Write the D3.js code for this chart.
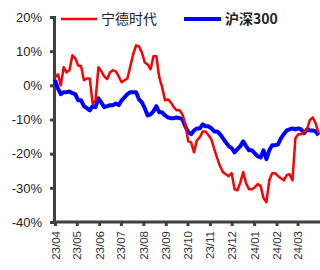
<!DOCTYPE html>
<html><head><meta charset="utf-8">
<script src="https://cdn.jsdelivr.net/npm/d3@7"></script>
<style>
html,body{margin:0;padding:0;background:#fff;}
svg{display:block;}
</style></head>
<body>
<svg id="c" width="320" height="270"></svg>
<script>
const dates = ["2023-04-01","2023-04-05","2023-04-09","2023-04-13","2023-04-17","2023-04-21","2023-04-25","2023-04-29","2023-05-03","2023-05-07","2023-05-11","2023-05-15","2023-05-19","2023-05-23","2023-05-27","2023-05-31","2023-06-04","2023-06-08","2023-06-12","2023-06-16","2023-06-20","2023-06-24","2023-06-28","2023-07-02","2023-07-06","2023-07-10","2023-07-14","2023-07-18","2023-07-22","2023-07-26","2023-07-30","2023-08-03","2023-08-07","2023-08-11","2023-08-15","2023-08-19","2023-08-23","2023-08-27","2023-08-31","2023-09-04","2023-09-08","2023-09-12","2023-09-16","2023-09-20","2023-09-24","2023-09-28","2023-10-02","2023-10-06","2023-10-10","2023-10-14","2023-10-18","2023-10-22","2023-10-26","2023-10-30","2023-11-03","2023-11-07","2023-11-11","2023-11-15","2023-11-19","2023-11-23","2023-11-27","2023-12-01","2023-12-05","2023-12-09","2023-12-13","2023-12-17","2023-12-21","2023-12-25","2023-12-29","2024-01-02","2024-01-06","2024-01-10","2024-01-14","2024-01-18","2024-01-22","2024-01-26","2024-01-30","2024-02-03","2024-02-07","2024-02-11","2024-02-15","2024-02-19","2024-02-23","2024-02-27","2024-03-02","2024-03-06","2024-03-10","2024-03-14","2024-03-18","2024-03-22","2024-03-26","2024-03-30"];
const catl = [2.3,3.2,0.0,5.3,3.8,4.4,8.8,7.9,5.8,5.6,1.5,2.0,2.0,-5.3,-4.4,5.3,4.1,2.6,1.8,3.8,4.4,4.1,2.6,0.9,1.5,2.0,5.6,9.1,11.7,11.4,9.6,6.7,6.1,4.7,8.5,8.5,2.3,-0.6,-4.4,-4.1,-5.0,-6.4,-7.3,-7.3,-8.5,-11.4,-16.4,-16.7,-19.6,-16.1,-15.2,-13.5,-13.5,-14.6,-15.8,-18.7,-21.3,-23.7,-25.4,-26.0,-26.6,-25.7,-30.4,-30.7,-28.4,-25.4,-28.7,-30.4,-30.4,-29.8,-28.9,-29.5,-33.0,-34.2,-27.8,-25.7,-25.7,-26.6,-27.2,-27.8,-26.3,-26.0,-27.8,-15.5,-14.3,-14.3,-13.7,-12.9,-10.2,-9.4,-11.1,-14.0];
const hs300 = [1.5,-0.9,-2.6,-2.0,-2.0,-1.8,-2.3,-2.6,-4.4,-4.4,-6.1,-6.7,-7.3,-6.1,-6.4,-3.8,-5.0,-6.4,-6.1,-5.8,-5.8,-5.3,-5.8,-4.4,-3.5,-2.6,-2.0,-2.0,-2.0,-4.1,-5.0,-6.7,-8.8,-8.5,-7.6,-6.1,-7.9,-7.9,-8.8,-9.4,-9.6,-9.6,-9.4,-9.6,-9.9,-12.0,-13.7,-14.3,-13.2,-12.6,-12.6,-11.4,-12.0,-12.0,-12.6,-13.5,-13.5,-14.3,-15.5,-16.7,-17.8,-18.4,-19.6,-18.7,-17.8,-16.4,-17.8,-19.0,-19.0,-19.9,-20.8,-21.1,-19.0,-21.6,-19.0,-17.5,-17.5,-17.3,-15.5,-14.3,-13.2,-12.9,-12.6,-12.9,-12.6,-12.9,-14.0,-12.9,-13.2,-13.2,-13.5,-14.6];
const yTicks = [20,10,0,-10,-20,-30,-40];
const xTickMonths = ["2023-04-01","2023-05-01","2023-06-01","2023-07-01","2023-08-01","2023-09-01","2023-10-01","2023-11-01","2023-12-01","2024-01-01","2024-02-01","2024-03-01"];
const seriesNames = ["宁德时代","沪深300"];
const seriesColors = ["#ff0000","#0000ff"];

const parse = d3.timeParse("%Y-%m-%d");
const svg = d3.select("#c");
const x = d3.scaleTime().domain([parse("2023-04-01"), parse("2024-04-01")]).range([55, 320]);
const y = d3.scaleLinear().domain([-40, 20]).range([222, 17]);
const axisColor = "#404040";

// Y axis
const yAxis = svg.append("g").attr("transform", "translate(54,0)")
  .call(d3.axisLeft(y).tickValues(yTicks).tickSize(4).tickPadding(8).tickFormat(d => d + "%"));
yAxis.select(".domain").attr("stroke", axisColor).attr("stroke-width", 3);
yAxis.selectAll(".tick line").attr("stroke", axisColor).attr("stroke-width", 3);
yAxis.selectAll("text").attr("fill", "#222").style("font-family", "Liberation Sans, Arial, sans-serif").style("font-size", "13px");

// X axis
const xAxis = svg.append("g").attr("transform", "translate(0,222)")
  .call(d3.axisBottom(x).tickValues(xTickMonths.map(parse)).tickSize(4).tickPadding(4).tickFormat(d3.timeFormat("%y/%m")));
xAxis.select(".domain").attr("stroke", axisColor).attr("stroke-width", 3).attr("d", "M54,0H320");
xAxis.selectAll(".tick line").attr("stroke", axisColor).attr("stroke-width", 3);
xAxis.selectAll("text").attr("fill", "#333")
  .style("font-family", "Liberation Sans, Arial, sans-serif").style("font-size", "11.5px")
  .attr("transform", "rotate(-90)").attr("text-anchor", "end").attr("dy", "0.35em").attr("x", -9).attr("y", 0);

// Lines
const pts = (vals) => dates.map((d, i) => [parse(d), vals[i]]);
const line = d3.line().x(d => x(d[0])).y(d => y(d[1]));
svg.append("path").datum(pts(hs300)).attr("d", line).attr("fill", "none")
  .attr("stroke", seriesColors[1]).attr("stroke-width", 4).attr("stroke-linejoin", "round");
svg.append("path").datum(pts(catl)).attr("d", line).attr("fill", "none")
  .attr("stroke", seriesColors[0]).attr("stroke-width", 2.5).attr("stroke-linejoin", "round");

// Legend
const leg = [
  {name: seriesNames[0], color: seriesColors[0], x1: 61, x2: 97, tx: 101, w: 2.5, weight: "normal"},
  {name: seriesNames[1], color: seriesColors[1], x1: 184, x2: 221, tx: 225, w: 4, weight: "bold"}
];
leg.forEach(l => {
  svg.append("line").attr("x1", l.x1).attr("x2", l.x2).attr("y1", 19).attr("y2", 19)
    .attr("stroke", l.color).attr("stroke-width", l.w);
  svg.append("text").attr("x", l.tx).attr("y", 19).attr("dy", "0.36em").text(l.name)
    .attr("fill", "#222").style("font-family", "Noto Sans CJK SC, sans-serif")
    .style("font-size", "14px").style("font-weight", l.weight);
});
</script>
</body></html>
